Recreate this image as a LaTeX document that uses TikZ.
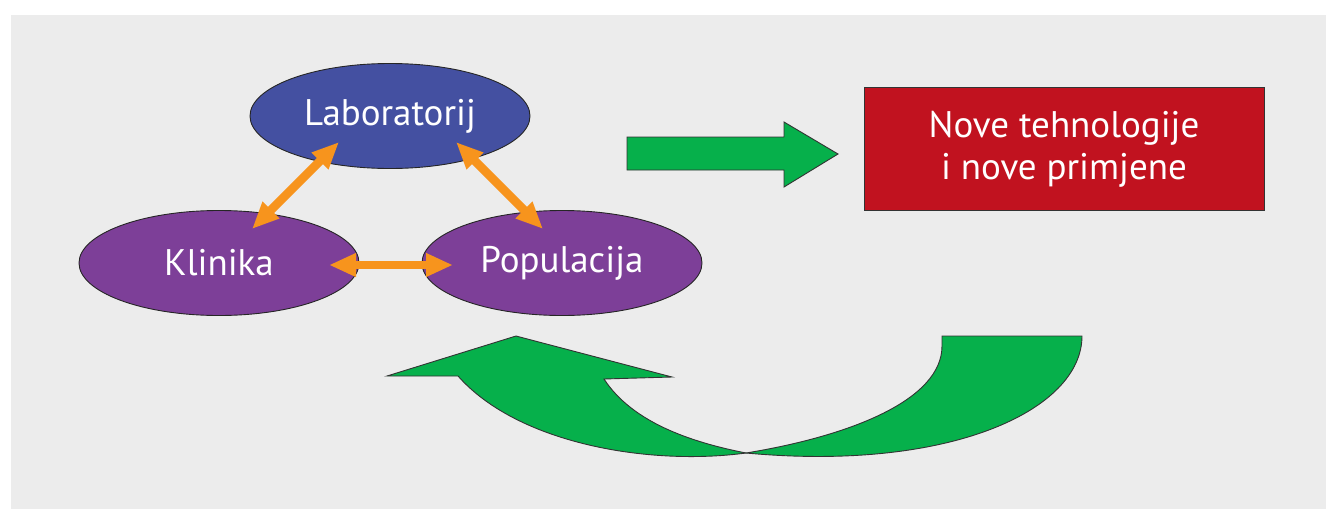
\documentclass[tikz,border=0pt]{standalone}
\usepackage{fontspec}
\setmainfont{PT Sans}
\usetikzlibrary{arrows.meta,shapes.geometric}
\definecolor{bggray}{HTML}{ECECEC}
\definecolor{labblue}{HTML}{4450A1}
\definecolor{popviolet}{HTML}{7D3F98}
\definecolor{arrorange}{HTML}{F7941D}
\definecolor{arrgreen}{HTML}{06B04B}
\definecolor{boxred}{HTML}{C1121F}
\tikzset{
  ellnode/.style={ellipse, draw=black!85, line width=0.9pt, inner sep=0pt,
    minimum width=280pt, minimum height=105pt, text=white,
    font=\fontsize{37}{42}\selectfont},
  link/.style={arrorange, line width=8.5pt,
    {Triangle[length=27pt,width=22pt]}-{Triangle[length=27pt,width=22pt]}},
  greenshape/.style={fill=arrgreen, draw=black!80, line width=0.9pt, line join=miter},
}
\begin{document}
\begin{tikzpicture}[x=1pt,y=-1pt]
\useasboundingbox (0,0) rectangle (1326,509);
\fill[white] (0,0) rectangle (1326,509);
\fill[bggray] (11,15) rectangle (1326,509);

\node[ellnode, fill=labblue] (lab) at (390,116) {Laboratorij};
\node[ellnode, fill=popviolet] (kli) at (219,263) {Klinika};
\node[ellnode, fill=popviolet] (pop) at (562,263) {Populacija};

\coordinate (lk1) at (339,142);
\coordinate (lk2) at (252,229);
\coordinate (lp1) at (456,142);
\coordinate (lp2) at (543,229);
\coordinate (kp1) at (329,265);
\coordinate (kp2) at (453,265);
\draw[link] (lk1) -- (lk2);
\draw[link] (lp1) -- (lp2);
\draw[link] (kp1) -- (kp2);

\node[rectangle, draw=black!80, line width=0.9pt, fill=boxred,
  minimum width=400pt, minimum height=123pt, align=center, text=white,
  font=\fontsize{37}{42}\selectfont] (nt) at (1064,149)
  {Nove tehnologije\\i nove primjene};

% straight green arrow
\draw[greenshape] (627,137) -- (784,137) -- (784,122) -- (838,154)
  -- (784,187) -- (784,170) -- (627,170) -- cycle;

% curved green arrow: head part
\draw[greenshape] (387,376) -- (516,336) -- (672,377) -- (604,379)
  .. controls (632,422) and (690,442) .. (746,453)
  .. controls (650,466) and (518,444) .. (458,376) -- cycle;
% curved green arrow: tail part
\draw[greenshape] (746,453)
  .. controls (850,436) and (942,400) .. (942,346)
  -- (942,336) -- (1082,336)
  .. controls (1082,410) and (950,472) .. (746,453) -- cycle;
\end{tikzpicture}
\end{document}
